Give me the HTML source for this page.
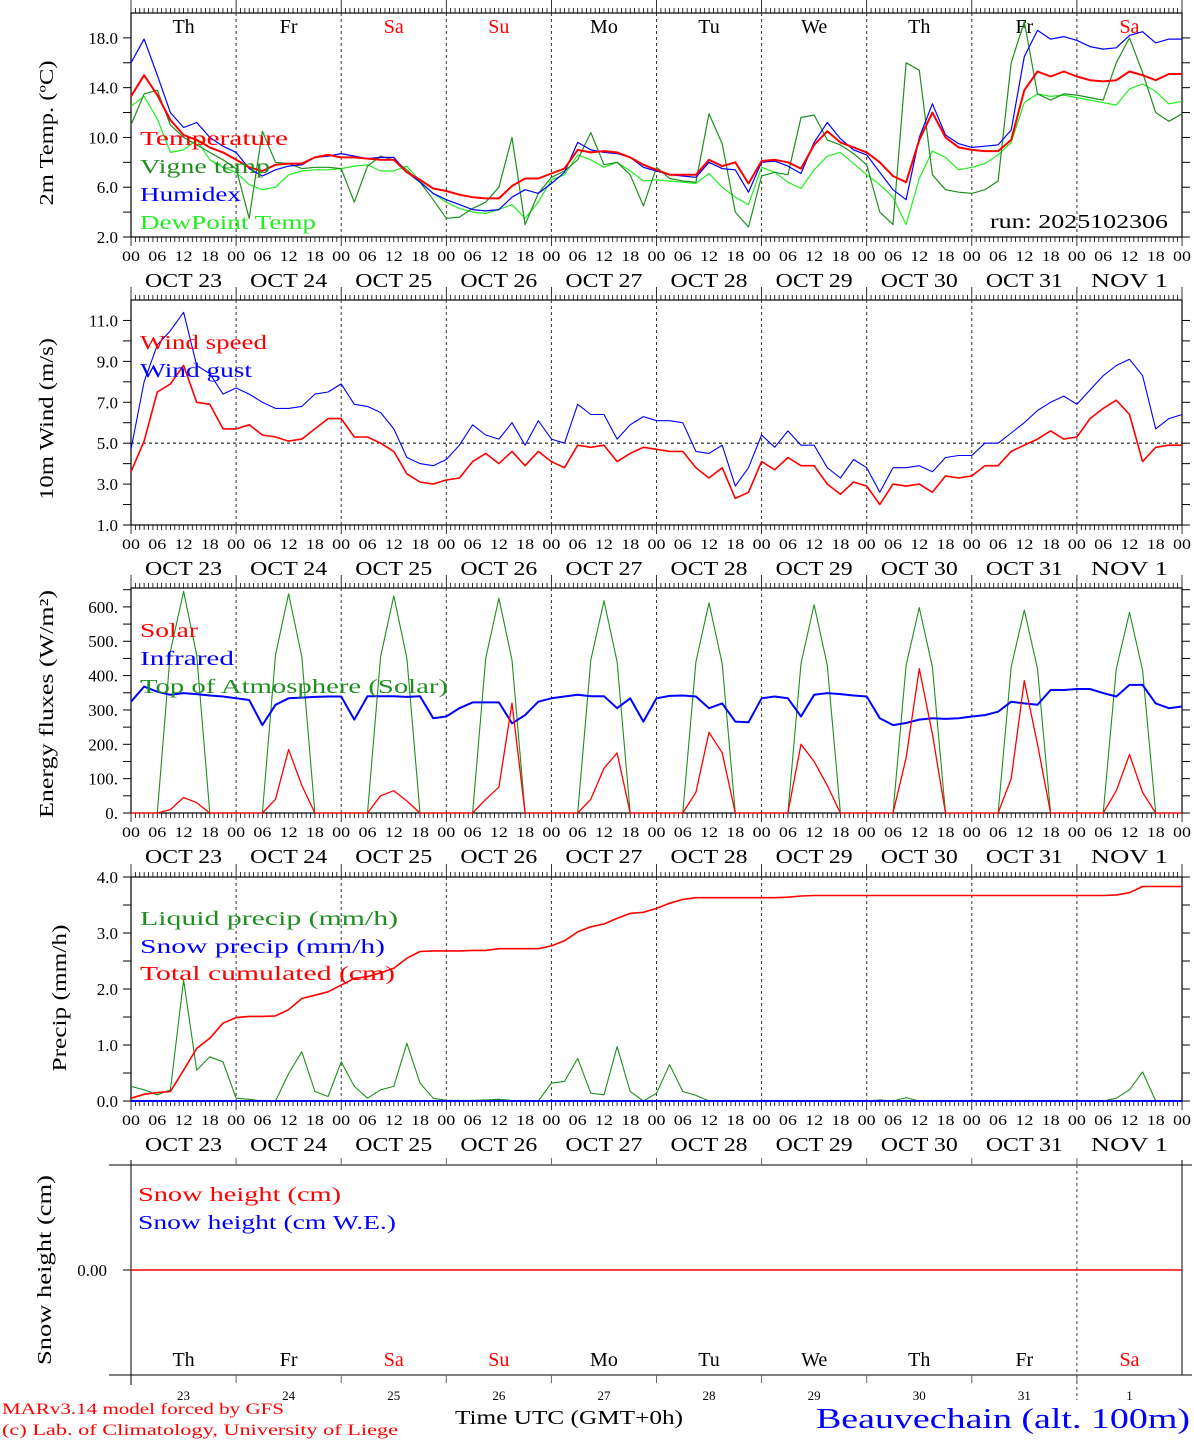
<!DOCTYPE html>
<html><head><meta charset="utf-8">
<style>
html,body{margin:0;padding:0;background:#fff;}
svg{display:block;font-family:"Liberation Serif",serif;}
</style></head>
<body>
<svg id="chart" xmlns="http://www.w3.org/2000/svg" width="1194" height="1440" viewBox="0 0 1194 1440"></svg>
<script>
// ---------- DATA (3-hourly, 23 Oct 00 UTC .. 2 Nov 00 UTC) ----------
const dayNames = ["Th","Fr","Sa","Su","Mo","Tu","We","Th","Fr","Sa"];
const dayDates = ["OCT 23","OCT 24","OCT 25","OCT 26","OCT 27","OCT 28","OCT 29","OCT 30","OCT 31","NOV  1"];
const dayNums = ["23","24","25","26","27","28","29","30","31","1"];
const hourLabels = ["00","06","12","18"];

const temperature = [13.3,15.0,13.4,11.4,10.2,9.8,9.2,8.8, 8.2,7.6,7.3,7.8,7.9,7.9,8.4,8.6, 8.4,8.4,8.3,8.2,8.2,7.2,6.6,5.9, 5.7,5.4,5.2,5.1,5.1,6.1,6.7,6.7, 7.1,7.5,9.0,8.8,8.9,8.8,8.4,7.8, 7.4,7.0,7.0,7.0,8.2,7.7,8.0,6.3, 8.1,8.2,8.0,7.5,9.4,10.5,9.6,9.2, 8.8,8.0,6.9,6.4,9.8,12.0,10.0,9.2, 9.0,8.9,8.9,9.8,13.8,15.3,14.9,15.3, 14.9,14.6,14.5,14.6,15.3,15.0,14.6,15.1,15.1];
const vigneTemp = [11.0,13.5,13.8,11.0,10.0,9.4,8.8,8.2, 7.5,3.5,10.5,8.0,7.9,7.5,7.6,7.6, 7.5,4.8,7.7,8.5,8.2,7.4,6.4,5.0, 3.5,3.6,4.3,4.8,6.0,10.0,3.0,5.5, 6.8,7.3,8.2,10.4,7.8,8.0,7.0,4.5, 7.6,6.7,6.5,6.4,11.9,9.5,4.0,2.8, 6.9,7.2,7.0,11.6,11.8,9.8,9.4,8.7, 7.8,4.0,3.0,16.0,15.4,7.0,5.8,5.6, 5.5,5.8,6.5,16.0,19.3,13.5,13.0,13.5, 13.4,13.2,13.0,16.0,18.0,15.2,12.0,11.3,11.9];
const humidex = [16.0,17.9,15.0,12.0,10.8,11.2,10.0,9.3, 8.8,7.5,6.9,7.4,7.7,7.8,8.4,8.5, 8.7,8.5,8.3,8.4,8.4,7.2,6.4,5.5, 5.0,4.6,4.2,4.1,4.2,5.2,5.8,5.5, 6.3,7.2,9.6,9.0,8.8,8.7,8.4,7.6, 7.3,7.0,6.9,6.8,8.0,7.5,7.4,5.6, 8.0,8.1,7.7,7.1,9.6,11.2,9.9,9.0, 8.6,7.2,5.8,5.0,10.0,12.7,10.2,9.5, 9.2,9.3,9.4,10.6,16.5,18.6,17.9,18.1, 17.8,17.3,17.1,17.2,18.2,18.5,17.6,17.9,17.9];
const dewPoint = [12.5,13.3,11.5,8.8,9.0,9.8,8.2,7.6, 7.2,6.2,5.8,6.0,7.0,7.3,7.4,7.4, 7.5,7.7,7.8,7.3,7.3,7.7,6.5,5.5, 4.8,4.3,4.0,3.9,4.2,4.6,3.5,4.8, 6.6,7.0,8.6,8.2,7.6,8.0,7.3,6.5, 6.6,6.5,6.4,6.3,7.1,6.0,5.2,4.6, 7.6,7.2,6.4,5.9,7.4,8.5,8.8,7.9, 7.0,6.2,5.2,3.0,6.7,8.9,8.4,7.4, 7.6,7.9,8.6,9.6,12.8,13.5,13.3,13.4, 13.2,13.0,12.8,12.6,13.9,14.3,13.7,12.7,12.9];

const windSpeed = [3.6,5.1,7.5,7.9,8.8,7.0,6.9,5.7, 5.7,5.9,5.4,5.3,5.1,5.2,5.7,6.2, 6.2,5.3,5.3,5.0,4.6,3.5,3.1,3.0, 3.2,3.3,4.1,4.5,4.0,4.6,3.9,4.6, 4.1,3.8,4.9,4.8,4.9,4.1,4.5,4.8, 4.7,4.6,4.6,3.8,3.3,3.8,2.3,2.6, 4.1,3.7,4.3,3.9,3.9,3.0,2.5,3.1, 2.9,2.0,3.0,2.9,3.0,2.6,3.4,3.3, 3.4,3.9,3.9,4.6,4.9,5.2,5.6,5.2, 5.3,6.2,6.7,7.1,6.4,4.1,4.8,4.9,4.9];
const windGust = [4.7,8.0,9.8,10.5,11.4,8.8,8.4,7.4, 7.7,7.4,7.0,6.7,6.7,6.8,7.4,7.5, 7.9,6.9,6.8,6.5,5.7,4.3,4.0,3.9, 4.2,4.9,5.9,5.4,5.2,6.0,4.9,6.1, 5.2,5.0,6.9,6.4,6.4,5.2,5.9,6.3, 6.1,6.1,6.0,4.6,4.5,4.9,2.9,3.8, 5.4,4.8,5.6,4.9,4.9,3.8,3.3,4.2, 3.8,2.6,3.8,3.8,3.9,3.6,4.3,4.4, 4.4,5.0,5.0,5.5,6.0,6.6,7.0,7.3, 6.9,7.6,8.3,8.8,9.1,8.3,5.7,6.2,6.4];

const solar = [0,0,0,10,45,30,0,0, 0,0,0,40,185,80,0,0, 0,0,0,50,65,35,0,0, 0,0,0,40,75,320,0,0, 0,0,0,40,130,175,0,0, 0,0,0,60,235,175,0,0, 0,0,0,200,150,80,0,0, 0,0,0,160,420,230,0,0, 0,0,0,100,385,200,0,0, 0,0,0,65,170,60,0,0,0];
const infrared = [324,368,353,344,349,346,342,339, 334,329,256,315,334,336,338,339, 339,272,340,340,340,338,340,276, 281,305,322,322,322,261,285,324, 334,339,344,340,340,305,334,266, 334,341,342,339,305,319,266,264, 334,339,334,281,344,349,346,342, 339,276,256,262,272,276,274,276, 281,285,295,324,319,315,358,358, 361,361,349,339,373,373,319,305,310];
const toaSolar = [0,0,0,470,645,460,0,0, 0,0,0,460,638,455,0,0, 0,0,0,455,632,450,0,0, 0,0,0,450,625,445,0,0, 0,0,0,445,618,440,0,0, 0,0,0,440,612,435,0,0, 0,0,0,435,606,430,0,0, 0,0,0,430,598,425,0,0, 0,0,0,425,591,420,0,0, 0,0,0,420,584,415,0,0,0];

const liquidPrecip = [0.26,0.20,0.11,0.20,2.16,0.55,0.79,0.70, 0.05,0.03,0,0,0.49,0.88,0.17,0.08, 0.70,0.26,0.05,0.20,0.26,1.03,0.32,0.05, 0.01,0.01,0.01,0.02,0.03,0.01,0,0, 0.32,0.35,0.76,0.14,0.11,0.97,0.17,0, 0.14,0.65,0.17,0.10,0,0,0,0, 0,0,0,0,0,0,0,0, 0,0.02,0,0.06,0,0,0,0, 0,0,0,0,0,0,0,0, 0,0,0,0.05,0.20,0.52,0,0,0];
const snowPrecip = new Array(81).fill(0);
const totalCumulated = [0.05,0.12,0.15,0.17,0.55,0.94,1.12,1.39, 1.49,1.51,1.51,1.52,1.63,1.83,1.89,1.95, 2.07,2.19,2.22,2.29,2.37,2.55,2.67,2.68, 2.68,2.68,2.69,2.69,2.72,2.72,2.72,2.72, 2.77,2.86,3.02,3.11,3.16,3.26,3.35,3.37, 3.44,3.53,3.60,3.63,3.63,3.63,3.63,3.63, 3.63,3.63,3.64,3.66,3.67,3.67,3.67,3.67, 3.67,3.67,3.67,3.67,3.67,3.67,3.67,3.67, 3.67,3.67,3.67,3.67,3.67,3.67,3.67,3.67, 3.67,3.67,3.67,3.68,3.72,3.83,3.83,3.83,3.83];
const snowHeight = new Array(81).fill(0);

// ---------- LAYOUT ----------
const NS = "http://www.w3.org/2000/svg";
const svg = document.getElementById("chart");
const X0 = 131, X1 = 1182;
function xh(h){ return X0 + (X1 - X0) * h / 240; }
function mk(tag, attrs, parent){
  const el = document.createElementNS(NS, tag);
  for (const k in attrs) el.setAttribute(k, attrs[k]);
  (parent || svg).appendChild(el);
  return el;
}
function txt(s, x, y, size, color, anchor, len, name){
  const el = mk("text", {x:x, y:y, "font-size":size, fill:color||"#000", "text-anchor":anchor||"start"});
  if (len){ el.setAttribute("textLength", len); el.setAttribute("lengthAdjust","spacingAndGlyphs"); }
  el.textContent = s;
  
  
  return el;
}
function scaleY(top, bottom, vmin, vmax){ return v => bottom - (v - vmin) * (bottom - top) / (vmax - vmin); }

function panel(id, top, bottom, ys, tickVals, labelVals, fmt, dashedDays){
  const g = mk("g", {});
  
  
  // frame
  const fr = mk("rect", {x:X0, y:top, width:X1-X0, height:bottom-top, fill:"none", stroke:"#000", "stroke-width":1.2}, g);
  
  
  // day separators
  for (let d = 1; d < 10; d++){
    if (dashedDays && dashedDays.indexOf(d) < 0) continue;
    const l = mk("line", {x1:xh(d*24), x2:xh(d*24), y1:top, y2:bottom, stroke:"#333", "stroke-width":1, "stroke-dasharray":"3,3"}, g);
    
    
  }
  // y ticks
  tickVals.forEach(v => {
    const y = ys(v);
    const a = mk("line", {x1:X0-8, x2:X0, y1:y, y2:y, stroke:"#000"}, g);
    
    
    const b = mk("line", {x1:X1, x2:X1+8, y1:y, y2:y, stroke:"#000"}, g);
    
    
  });
  labelVals.forEach(v => {
    txt(fmt(v), 118, ys(v)+6, 17, "#000", "end", null, id + '-y-tick-label');
  });
  return g;
}
function hourAxis(id, top, bottom, withLabels){
  for (let h = 0; h <= 240; h++){
    const x = xh(h);
    const major = h % 24 === 0;
    const t1 = mk("line", {x1:x, x2:x, y1:top-(major?13:5), y2:top, stroke:"#000", "stroke-width":0.8});
    
    
    const t2 = mk("line", {x1:x, x2:x, y1:bottom, y2:bottom+(major?9:5), stroke:"#000", "stroke-width":0.8});
    
    
  }
  if (!withLabels) return;
  for (let d = 0; d <= 10; d++){
    for (let q = 0; q < 4; q++){
      if (d === 10 && q > 0) break;
      txt(hourLabels[q], xh(d*24 + q*6), bottom+24, 15, "#000", "middle", 18, id + '-hour-label');
    }
  }
  for (let d = 0; d < 10; d++){
    txt(dayDates[d], xh(d*24+12)+0, bottom+50, 20, "#000", "middle", 77, id + '-date-label');
  }
}
function series(id, arr, ys, color, width){
  const pts = arr.map((v,i) => xh(i*3).toFixed(1) + "," + ys(v).toFixed(1)).join(" ");
  const p = mk("polyline", {points:pts, fill:"none", stroke:color, "stroke-width":width, "stroke-linejoin":"round"});
  
  
  return p;
}
function ytitle(s, x, yc, len, name){
  const el = mk("text", {x:0, y:0, "font-size":20, fill:"#000", "text-anchor":"middle", transform:"translate("+x+","+yc+") rotate(-90)", textLength:len, lengthAdjust:"spacingAndGlyphs"});
  el.textContent = s;
  
  
}

const RED = "#ff0000", BLUE = "#0000ff", DGREEN = "#1f8f1f", LIME = "#22ee22";

// ---------- PANEL 1: temperature ----------
const y1 = scaleY(13, 237, 2, 20);
panel("temp", 13, 237, y1, [2,4,6,8,10,12,14,16,18], [2,6,10,14,18], v => v.toFixed(1));
hourAxis("temp", 13, 237, true);
dayNames.forEach((n,d) => txt(n, xh(d*24+12), 33, 20, (n==="Sa"||n==="Su")?RED:"#000", "middle", null, 'temp-day-name'));
series("dewpoint-line", dewPoint, y1, LIME, 1.2);
series("vigne-temp-line", vigneTemp, y1, DGREEN, 1.2);
series("humidex-line", humidex, y1, BLUE, 1.2);
series("temperature-line", temperature, y1, RED, 2);
txt("Temperature", 140, 145, 20, RED, "start", 148, 'legend-temperature');
txt("Vigne temp", 140, 173, 20, DGREEN, "start", 130, 'legend-vigne-temp');
txt("Humidex", 140, 201, 20, BLUE, "start", 101, 'legend-humidex');
txt("DewPoint Temp", 140, 229, 20, LIME, "start", 176, 'legend-dewpoint');
txt("run: 2025102306", 990, 228, 20, "#000", "start", 178, 'run-label');
ytitle("2m Temp. (ºC)", 53, 133, 145, 'temp-y-axis-title');

// ---------- PANEL 2: wind ----------
const y2 = scaleY(300, 525, 1, 12);
panel("wind", 300, 525, y2, [1,2,3,4,5,6,7,8,9,10,11], [1,3,5,7,9,11], v => v.toFixed(1));
hourAxis("wind", 300, 525, true);
const ref5 = mk("line", {x1:X0, x2:X1, y1:y2(5), y2:y2(5), stroke:"#000", "stroke-dasharray":"3,3"});


series("wind-gust-line", windGust, y2, BLUE, 1.1);
series("wind-speed-line", windSpeed, y2, RED, 1.6);
txt("Wind speed", 140, 349, 20, RED, "start", 127, 'legend-wind-speed');
txt("Wind gust", 140, 377, 20, BLUE, "start", 112, 'legend-wind-gust');
ytitle("10m Wind (m/s)", 53, 419, 162, 'wind-y-axis-title');

// ---------- PANEL 3: energy ----------
const y3 = scaleY(588, 813, 0, 655);
panel("energy", 588, 813, y3, [0,50,100,150,200,250,300,350,400,450,500,550,600,650], [0,100,200,300,400,500,600], v => v===0 ? "0." : v + ".");
hourAxis("energy", 588, 813, true);
series("toa-solar-line", toaSolar, y3, DGREEN, 1.1);
series("infrared-line", infrared, y3, BLUE, 2);
series("solar-line", solar, y3, RED, 1.3);
txt("Solar", 140, 637, 20, RED, "start", 58, 'legend-solar');
txt("Infrared", 140, 665, 20, BLUE, "start", 94, 'legend-infrared');
txt("Top of Atmosphere (Solar)", 140, 693, 20, DGREEN, "start", 308, 'legend-toa-solar');
ytitle("Energy fluxes (W/m²)", 53, 704, 228, 'energy-y-axis-title');

// ---------- PANEL 4: precipitation ----------
const y4 = scaleY(877, 1101, 0, 4);
panel("precip", 877, 1101, y4, [0,0.5,1,1.5,2,2.5,3,3.5,4], [0,1,2,3,4], v => v.toFixed(1));
hourAxis("precip", 877, 1101, true);
series("liquid-precip-line", liquidPrecip, y4, DGREEN, 1.1);
series("snow-precip-line", snowPrecip, y4, BLUE, 2);
series("total-cumulated-line", totalCumulated, y4, RED, 1.6);
txt("Liquid precip (mm/h)", 140, 925, 20, DGREEN, "start", 258, 'legend-liquid-precip');
txt("Snow precip (mm/h)", 140, 953, 20, BLUE, "start", 245, 'legend-snow-precip');
txt("Total cumulated (cm)", 140, 980, 20, RED, "start", 255, 'legend-total-cumulated');
ytitle("Precip (mm/h)", 66, 998, 147, 'precip-y-axis-title');

// ---------- PANEL 5: snow height ----------
const y5 = scaleY(1165, 1375, -1, 1);
const sf = mk("line", {x1:X0-22, x2:X1+10, y1:1165, y2:1165, stroke:"#000"});


const sb = mk("line", {x1:X0-22, x2:X1+10, y1:1375, y2:1375, stroke:"#000"});


const sl = mk("line", {x1:X0, x2:X0, y1:1160, y2:1385, stroke:"#000"});


const sr = mk("line", {x1:X1, x2:X1, y1:1160, y2:1375, stroke:"#000"});


for (let d = 1; d < 10; d++){
  const a = mk("line", {x1:xh(d*24), x2:xh(d*24), y1:1158, y2:1165, stroke:"#666"});
  
  
  const b = mk("line", {x1:xh(d*24), x2:xh(d*24), y1:1375, y2:1383, stroke:"#666"});
  
  
}
const nd = mk("line", {x1:xh(216), x2:xh(216), y1:1165, y2:1400, stroke:"#444", "stroke-dasharray":"3,3"});


const zt = mk("line", {x1:X0-8, x2:X0, y1:y5(0), y2:y5(0), stroke:"#000"});


txt("0.00", 107, y5(0)+6, 17, "#000", "end", null, 'snow-y-tick-label');
series("snow-height-line", snowHeight, y5, RED, 1.5);
txt("Snow height (cm)", 138, 1201, 20, RED, "start", 203, 'legend-snow-height');
txt("Snow height (cm W.E.)", 138, 1229, 20, BLUE, "start", 258, 'legend-snow-height-we');
ytitle("Snow height (cm)", 51, 1270, 190, 'snow-y-axis-title');
dayNames.forEach((n,d) => txt(n, xh(d*24+12), 1366, 20, (n==="Sa"||n==="Su")?RED:"#000", "middle", null, 'snow-day-name'));
dayNums.forEach((n,d) => txt(n, xh(d*24+12), 1400, 13, "#000", "middle", null, 'snow-day-number'));

// ---------- FOOTER ----------
txt("MARv3.14 model forced by GFS", 2, 1414, 16, RED, "start", 282, 'credit-model');
txt("(c) Lab. of Climatology, University of Liege", 2, 1435, 16, RED, "start", 396, 'credit-lab');
txt("Time UTC (GMT+0h)", 455, 1424, 20, "#000", "start", 228, 'x-axis-title');
txt("Beauvechain (alt. 100m)", 816, 1428, 28, BLUE, "start", 374, 'station-name');
</script>
</body></html>
